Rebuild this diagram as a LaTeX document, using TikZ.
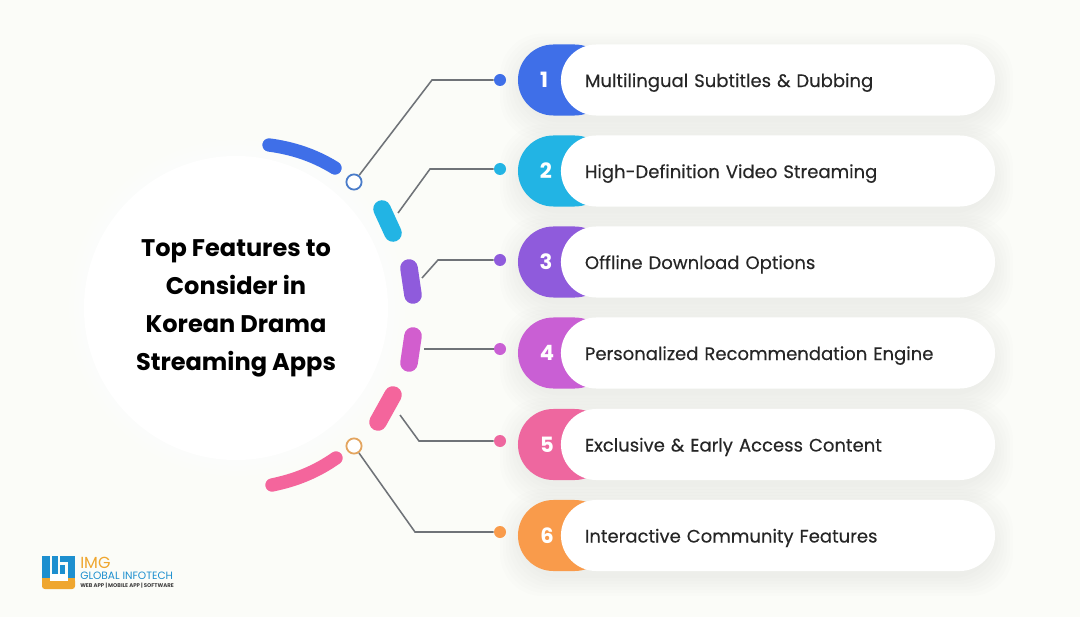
\documentclass[tikz,border=0pt]{standalone}
\usepackage{fontspec}
\setmainfont{Poppins}
\newfontfamily\labelfont{Poppins}[FakeBold=0.3]
\usepackage{tikz}
\usetikzlibrary{calc,positioning,shapes}

\definecolor{pagebg}{HTML}{FBFCF8}
\definecolor{c1}{HTML}{3F6FE8}
\definecolor{c2}{HTML}{22B4E4}
\definecolor{c3}{HTML}{8F5BDC}
\definecolor{c4}{HTML}{C95FD4}
\definecolor{c4b}{HTML}{D25ECE}
\definecolor{c5}{HTML}{EE679F}
\definecolor{c5b}{HTML}{F4659C}
\definecolor{c6}{HTML}{F99B4B}
\definecolor{linegray}{HTML}{6F7378}
\definecolor{ringblue}{HTML}{4A7CC9}
\definecolor{ringorange}{HTML}{E3A55F}
\definecolor{logoblue}{HTML}{1D8FCF}
\definecolor{logoorange}{HTML}{EFA62F}

\tikzset{
	colorpill/.style={shape=rectangle,rounded corners=25.2pt,minimum width=2.3cm,minimum height=1.775cm,inner sep=0pt},
	labelpill/.style={shape=rectangle,rounded corners=25.2pt,fill=white,minimum width=10.85cm,minimum height=1.775cm,text width=9.65cm,align=left,inner xsep=0.6cm,inner ysep=0pt,text height=0.35cm,text depth=0cm,font=\labelfont\fontsize{12.82}{15}\selectfont,text=black!85},
	numlabel/.style={text=white,font=\bfseries\fontsize{15}{18}\selectfont,inner sep=0pt},
	enddot/.style={shape=circle,minimum size=0.3cm,inner sep=0pt},
	ring/.style={shape=circle,draw,fill=white,line width=1.3pt,minimum size=0.38cm,inner sep=0pt},
	connector/.style={draw=linegray,line width=1.1pt},
	blob/.style={line cap=round,line width=#1},
	blob/.default=12pt
}

\newcommand{\pillshadow}[1]{
	\foreach \g in {18,15,12,9,6,3,0}
		\fill [black,opacity=0.007,rounded corners=30pt] (518-\g,#1-35.5-\g+7) rectangle (995+\g,#1+35.5+\g+7);
}

\begin{document}
\begin{tikzpicture}[x=0.025cm,y=-0.025cm]
	\useasboundingbox (0,0) rectangle (1080,617);
	\fill [pagebg] (0,0) rectangle (1080,617);

	% big circle
	\foreach \r in {168,163,158}
		\fill [white,opacity=0.2] (237,308) circle [radius=\r];
	\node (circle) at (236,308) [shape=circle,fill=white,minimum size=7.6cm,inner sep=0pt,align=center,font=\bfseries\fontsize{17.1}{27}\selectfont,text=black] {Top Features to\\Consider in\\Korean Drama\\Streaming Apps};

	% arcs
	\draw [blob=9.5pt,c1] (269,145) .. controls (292,148) and (314,155) .. (335,168);
	\draw [blob=12.5pt,c2] (382,209) -- (393,233);
	\draw [blob=12.5pt,c3] (409,268) -- (413,295);
	\draw [blob=12.5pt,c4b] (413,336) -- (409,363);
	\draw [blob=12.5pt,c5b] (393,395) -- (378,422);
	\draw [blob=9.5pt,c5b] (336,458) .. controls (316,472) and (296,480) .. (272,485);

	% rows
	\pillshadow{80}
	\pillshadow{171}
	\pillshadow{262}
	\pillshadow{353}
	\pillshadow{444.5}
	\pillshadow{535.5}
	\node (pill1) at (564,80) [colorpill,fill=c1] {};
	\node (pill2) at (564,171) [colorpill,fill=c2] {};
	\node (pill3) at (564,262) [colorpill,fill=c3] {};
	\node (pill4) at (564,353) [colorpill,fill=c4] {};
	\node (pill5) at (564,444.5) [colorpill,fill=c5] {};
	\node (pill6) at (564,535.5) [colorpill,fill=c6] {};
	\node (num1) at (544,80) [numlabel] {1};
	\node (num2) at (546,171) [numlabel] {2};
	\node (num3) at (546,262) [numlabel] {3};
	\node (num4) at (547,353) [numlabel] {4};
	\node (num5) at (547,444.5) [numlabel] {5};
	\node (num6) at (547,535.5) [numlabel] {6};
	\node (lab1) at (778,80) [labelpill] {Multilingual Subtitles \& Dubbing};
	\node (lab2) at (778,171) [labelpill] {High-Definition Video Streaming};
	\node (lab3) at (778,262) [labelpill] {Offline Download Options};
	\node (lab4) at (778,353) [labelpill] {Personalized Recommendation Engine};
	\node (lab5) at (778,444.5) [labelpill] {Exclusive \& Early Access Content};
	\node (lab6) at (778,535.5) [labelpill] {Interactive Community Features};

	% dots and rings
	\node (dot1) at (500,80) [enddot,fill=c1] {};
	\node (dot2) at (500,169) [enddot,fill=c2] {};
	\node (dot3) at (500,260) [enddot,fill=c3] {};
	\node (dot4) at (500,349) [enddot,fill=c4] {};
	\node (dot5) at (500,441) [enddot,fill=c5] {};
	\node (dot6) at (500,532) [enddot,fill=c6] {};
	\node (ring1) at (354,182) [ring,draw=ringblue] {};
	\node (ring6) at (354,446) [ring,draw=ringorange] {};

	\coordinate (start2) at (398,213);
	\coordinate (start3) at (422,278);
	\coordinate (start4) at (424,349);
	\coordinate (start5) at (400,415);
	\coordinate (bend1) at (432,80);
	\coordinate (bend2) at (430,169);
	\coordinate (bend3) at (438,260);
	\coordinate (bend5) at (419,441);
	\coordinate (bend6) at (415,532);

	\draw [connector] (ring1) -- (bend1) -- (dot1);
	\draw [connector] (start2) -- (bend2) -- (dot2);
	\draw [connector] (start3) -- (bend3) -- (dot3);
	\draw [connector] (start4) -- (dot4);
	\draw [connector] (start5) -- (bend5) -- (dot5);
	\draw [connector] (ring6) -- (bend6) -- (dot6);

	% logo
	\fill [logoblue] (42,556) rectangle (50,581);
	\fill [logoblue] (60,556) rectangle (75,562);
	\fill [logoblue] (68,556) rectangle (75,581);
	\fill [logoblue] (52,556) rectangle (58,574);
	\fill [logoblue] (60,565) rectangle (65,574);
	\fill [logoorange,rounded corners=2pt] (42,578) rectangle (75,589);
	\fill [logoorange] (42,578) rectangle (75,582);
	\fill [white] (50,574) rectangle (68,581);
	\node (logo1) at (80,563) [anchor=west,inner sep=0pt,text=logoorange,font=\fontsize{11.4}{13}\selectfont] {IMG};
	\node (logo2) at (80,575.5) [anchor=west,inner sep=0pt,text=logoblue,font=\fontsize{7.55}{9}\selectfont] {GLOBAL INFOTECH};
	\node (logo3) at (80,585.5) [anchor=west,inner sep=0pt,text=black!75,font=\bfseries\fontsize{3.85}{4}\selectfont] {WEB APP | MOBILE APP | SOFTWARE};
\end{tikzpicture}
\end{document}
